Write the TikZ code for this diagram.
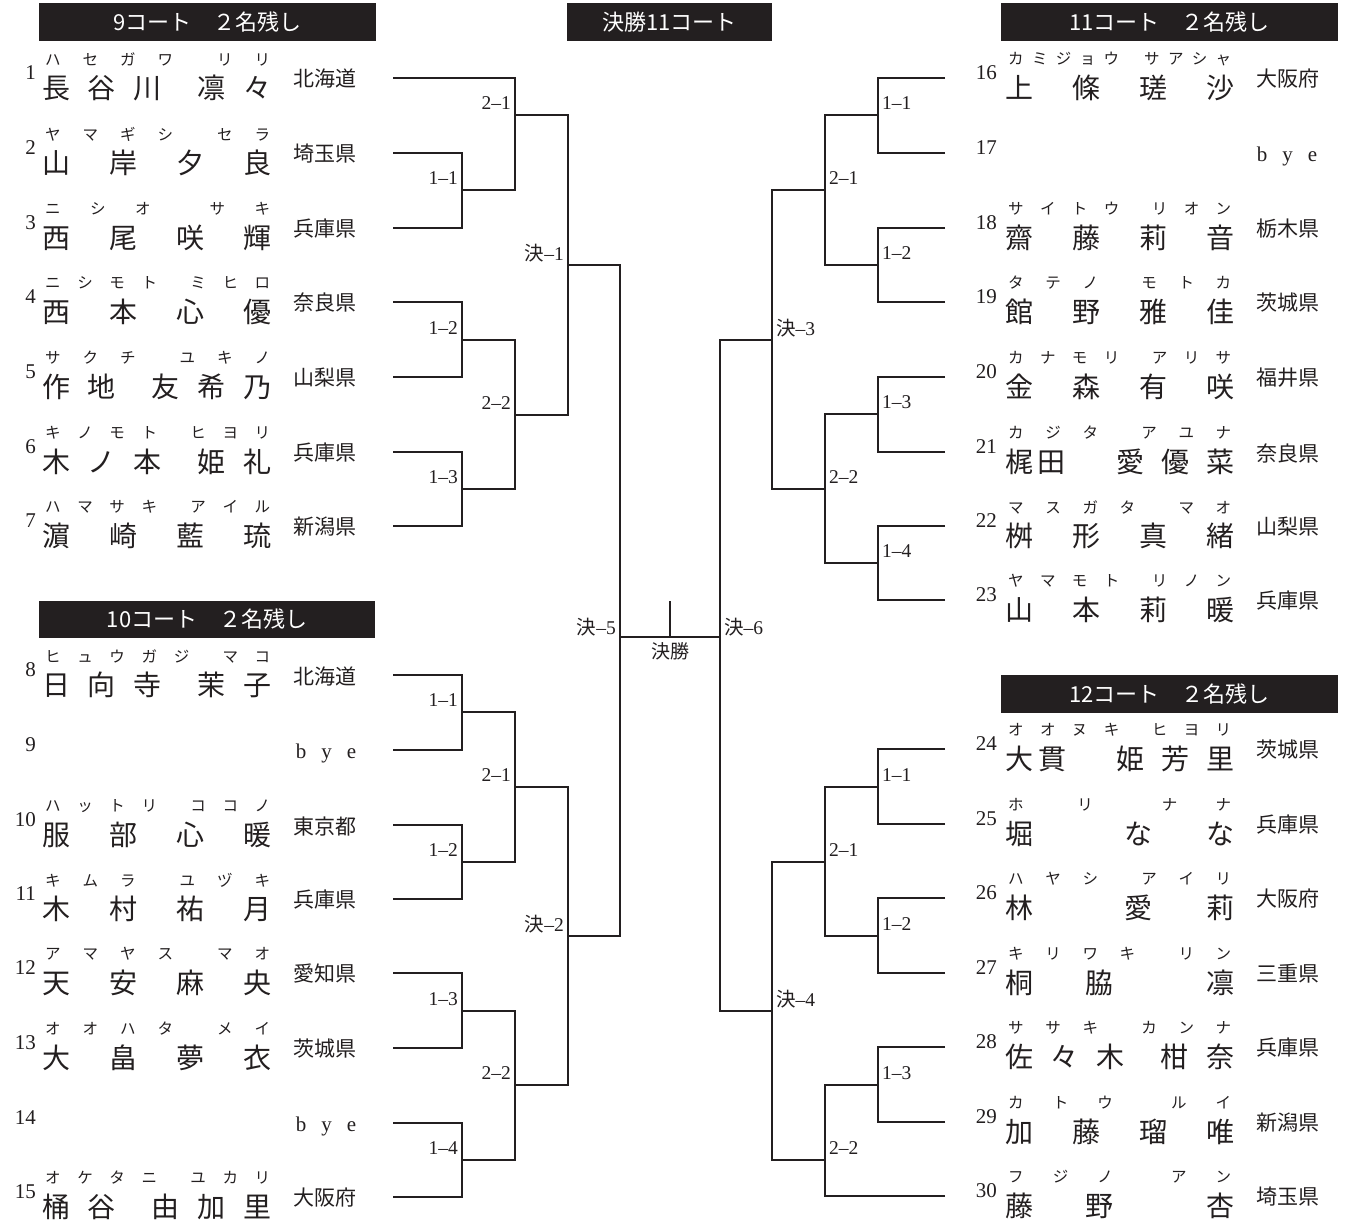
\documentclass[tikz,border=0pt]{standalone}
\usepackage{fontspec}
\setmainfont{Liberation Serif}
\newfontfamily\jp{Noto Sans CJK JP}
\definecolor{ink}{RGB}{35,31,32}
\newcommand\jg{\hfill}
\newcommand\jb{\hspace{\stretch{2}}}
\newcommand\jst[1]{\hspace{\stretch{#1}}}
\tikzset{
 br/.style={draw=ink, line width=2.9pt, line join=miter},
 hdr/.style={fill=ink, text=white, font=\jp\fontsize{22}{22}\selectfont, inner sep=0pt},
 lab/.style={text=ink, font=\fontsize{19.5}{19.5}\selectfont, inner sep=0pt},
 labL/.style={lab, anchor=east},
 labR/.style={lab, anchor=west},
 num/.style={text=ink, font=\fontsize{21}{21}\selectfont, inner sep=0pt, anchor=east},
 kana/.style={text=ink, font=\jp\fontsize{15.5}{15.5}\selectfont, inner sep=0pt, anchor=west},
 nm/.style={text=ink, font=\jp\fontsize{28}{28}\selectfont, inner sep=0pt, anchor=west},
 pref/.style={text=ink, font=\jp\fontsize{21}{21}\selectfont, inner sep=0pt},
 byetxt/.style={text=ink, font=\fontsize{21}{21}\selectfont, inner sep=0pt, anchor=base},
}
\newcommand\entL[5]{%
 \node[num] (n#1) at (36,#2-5) {#1};
 \node[kana] (k#1) at (45,#2-19) {\makebox[225pt][l]{#3}};
 \node[nm] (m#1) at (42,#2+10) {\makebox[229pt][l]{#4}};
 \node[pref] (p#1) at (325,#2+1) {#5};}
\newcommand\entR[5]{%
 \node[num] (n#1) at (997,#2-5) {#1};
 \node[kana] (k#1) at (1008,#2-19) {\makebox[223pt][l]{#3}};
 \node[nm] (m#1) at (1005,#2+10) {\makebox[229pt][l]{#4}};
 \node[pref] (p#1) at (1288,#2+1) {#5};}
\newcommand\byeL[2]{%
 \node[num] (n#1) at (36,#2-5) {#1};
 \node[byetxt] (p#1) at (326,#2+8) {b\hspace{15pt}y\hspace{15pt}e};}
\newcommand\byeR[2]{%
 \node[num] (n#1) at (997,#2-5) {#1};
 \node[byetxt] (p#1) at (1287,#2+8) {b\hspace{15pt}y\hspace{15pt}e};}
\begin{document}
\begin{tikzpicture}[x=1pt,y=-1pt]
\fill[white] (0,0) rectangle (1348,1224);
\useasboundingbox (0,0) rectangle (1348,1224);

% headers
\node[hdr, minimum width=337pt, minimum height=38pt] (h9) at (207.5,22) {9コート　２名残し};
\node[hdr, minimum width=205pt, minimum height=38pt] (hF) at (669.5,22) {決勝11コート};
\node[hdr, minimum width=337pt, minimum height=38pt] (h11) at (1169.5,22) {11コート　２名残し};
\node[hdr, minimum width=336pt, minimum height=37pt] (h10) at (207,619.5) {10コート　２名残し};
\node[hdr, minimum width=337pt, minimum height=38pt] (h12) at (1169.5,694) {12コート　２名残し};

% entry line ends
\coordinate (e1) at (393,78);   \coordinate (e2) at (393,153);
\coordinate (e3) at (393,228);  \coordinate (e4) at (393,302);
\coordinate (e5) at (393,377);  \coordinate (e6) at (393,452);
\coordinate (e7) at (393,526);
\coordinate (e8) at (393,675);  \coordinate (e9) at (393,750);
\coordinate (e10) at (393,825); \coordinate (e11) at (393,899);
\coordinate (e12) at (393,973); \coordinate (e13) at (393,1048);
\coordinate (e14) at (393,1123);\coordinate (e15) at (393,1197);
\coordinate (e16) at (945,78);  \coordinate (e17) at (945,153);
\coordinate (e18) at (945,228); \coordinate (e19) at (945,302);
\coordinate (e20) at (945,377); \coordinate (e21) at (945,452);
\coordinate (e22) at (945,526); \coordinate (e23) at (945,600);
\coordinate (e24) at (945,749); \coordinate (e25) at (945,824);
\coordinate (e26) at (945,898); \coordinate (e27) at (945,973);
\coordinate (e28) at (945,1047);\coordinate (e29) at (945,1122);
\coordinate (e30) at (945,1196);

% match junctions
\coordinate (A11) at (462,190); \coordinate (A12) at (462,340);
\coordinate (A13) at (462,489); \coordinate (A21) at (515,115);
\coordinate (A22) at (515,415); \coordinate (K1) at (568,265);
\coordinate (B11) at (462,712); \coordinate (B12) at (462,862);
\coordinate (B13) at (462,1011);\coordinate (B14) at (462,1160);
\coordinate (B21) at (515,787); \coordinate (B22) at (515,1085);
\coordinate (K2) at (568,936);
\coordinate (K5) at (620,637);
\coordinate (C11) at (878,115); \coordinate (C12) at (878,265);
\coordinate (C13) at (878,414); \coordinate (C14) at (878,563);
\coordinate (C21) at (825,190); \coordinate (C22) at (825,489);
\coordinate (K3) at (772,340);
\coordinate (D11) at (878,787); \coordinate (D12) at (878,936);
\coordinate (D13) at (878,1085);\coordinate (D21) at (825,862);
\coordinate (D22) at (825,1160);\coordinate (K4) at (772,1011);
\coordinate (K6) at (720,637);
\coordinate (FT) at (670,601);  \coordinate (FB) at (670,637);

% bracket lines
\draw[br] (e1) -| (A21); \draw[br] (e2) -| (A11); \draw[br] (e3) -| (A11);
\draw[br] (e4) -| (A12); \draw[br] (e5) -| (A12);
\draw[br] (e6) -| (A13); \draw[br] (e7) -| (A13);
\draw[br] (A11) -| (A21); \draw[br] (A12) -| (A22); \draw[br] (A13) -| (A22);
\draw[br] (A21) -| (K1); \draw[br] (A22) -| (K1);
\draw[br] (e8) -| (B11); \draw[br] (e9) -| (B11);
\draw[br] (e10) -| (B12); \draw[br] (e11) -| (B12);
\draw[br] (e12) -| (B13); \draw[br] (e13) -| (B13);
\draw[br] (e14) -| (B14); \draw[br] (e15) -| (B14);
\draw[br] (B11) -| (B21); \draw[br] (B12) -| (B21);
\draw[br] (B13) -| (B22); \draw[br] (B14) -| (B22);
\draw[br] (B21) -| (K2); \draw[br] (B22) -| (K2);
\draw[br] (K1) -| (K5); \draw[br] (K2) -| (K5);
\draw[br] (e16) -| (C11); \draw[br] (e17) -| (C11);
\draw[br] (e18) -| (C12); \draw[br] (e19) -| (C12);
\draw[br] (e20) -| (C13); \draw[br] (e21) -| (C13);
\draw[br] (e22) -| (C14); \draw[br] (e23) -| (C14);
\draw[br] (C11) -| (C21); \draw[br] (C12) -| (C21);
\draw[br] (C13) -| (C22); \draw[br] (C14) -| (C22);
\draw[br] (C21) -| (K3); \draw[br] (C22) -| (K3);
\draw[br] (e24) -| (D11); \draw[br] (e25) -| (D11);
\draw[br] (e26) -| (D12); \draw[br] (e27) -| (D12);
\draw[br] (e28) -| (D13); \draw[br] (e29) -| (D13);
\draw[br] (e30) -| (D22);
\draw[br] (D11) -| (D21); \draw[br] (D12) -| (D21);
\draw[br] (D13) -| (D22);
\draw[br] (D21) -| (K4); \draw[br] (D22) -| (K4);
\draw[br] (K3) -| (K6); \draw[br] (K4) -| (K6);
\draw[br] (K5) -- (K6);
\draw[br] (FT) -- (FB);

% match labels
\node[labL] (lA11) at (458,178) {1–1};
\node[labL] (lA12) at (458,328) {1–2};
\node[labL] (lA13) at (458,477) {1–3};
\node[labL] (lA21) at (511,103) {2–1};
\node[labL] (lA22) at (511,403) {2–2};
\node[labL] (lK1) at (564,253) {{\jp 決}–1};
\node[labL] (lB11) at (458,700) {1–1};
\node[labL] (lB12) at (458,850) {1–2};
\node[labL] (lB13) at (458,999) {1–3};
\node[labL] (lB14) at (458,1148) {1–4};
\node[labL] (lB21) at (511,775) {2–1};
\node[labL] (lB22) at (511,1073) {2–2};
\node[labL] (lK2) at (564,924) {{\jp 決}–2};
\node[labL] (lK5) at (616,627) {{\jp 決}–5};
\node[labR] (lC11) at (882,103) {1–1};
\node[labR] (lC12) at (882,253) {1–2};
\node[labR] (lC13) at (882,402) {1–3};
\node[labR] (lC14) at (882,551) {1–4};
\node[labR] (lC21) at (829,178) {2–1};
\node[labR] (lC22) at (829,477) {2–2};
\node[labR] (lK3) at (776,328) {{\jp 決}–3};
\node[labR] (lD11) at (882,775) {1–1};
\node[labR] (lD12) at (882,924) {1–2};
\node[labR] (lD13) at (882,1073) {1–3};
\node[labR] (lD21) at (829,850) {2–1};
\node[labR] (lD22) at (829,1148) {2–2};
\node[labR] (lK4) at (776,999) {{\jp 決}–4};
\node[labR] (lK6) at (724,627) {{\jp 決}–6};
\node[lab, font=\jp\fontsize{19}{19}\selectfont] (lF) at (670,651) {決勝};

% left entries
\entL{1}{78}{ハ\jg セ\jg ガ\jg ワ\jb リ\jg リ}{長\jg 谷\jg 川\jb 凛\jg 々}{北海道}
\entL{2}{153}{ヤ\jg マ\jg ギ\jg シ\jb セ\jg ラ}{山\jg 岸\jg 夕\jg 良}{埼玉県}
\entL{3}{228}{ニ\jg シ\jg オ\jb サ\jg キ}{西\jg 尾\jg 咲\jg 輝}{兵庫県}
\entL{4}{302}{ニ\jg シ\jg モ\jg ト\jb ミ\jg ヒ\jg ロ}{西\jg 本\jg 心\jg 優}{奈良県}
\entL{5}{377}{サ\jg ク\jg チ\jb ユ\jg キ\jg ノ}{作\jg 地\jb 友\jg 希\jg 乃}{山梨県}
\entL{6}{452}{キ\jg ノ\jg モ\jg ト\jb ヒ\jg ヨ\jg リ}{木\jg ノ\jg 本\jb 姫\jg 礼}{兵庫県}
\entL{7}{526}{ハ\jg マ\jg サ\jg キ\jb ア\jg イ\jg ル}{濵\jg 崎\jg 藍\jg 琉}{新潟県}
\entL{8}{675}{ヒ\jg ュ\jg ウ\jg ガ\jg ジ\jb マ\jg コ}{日\jg 向\jg 寺\jb 茉\jg 子}{北海道}
\byeL{9}{750}
\entL{10}{825}{ハ\jg ッ\jg ト\jg リ\jb コ\jg コ\jg ノ}{服\jg 部\jg 心\jg 暖}{東京都}
\entL{11}{899}{キ\jg ム\jg ラ\jb ユ\jg ヅ\jg キ}{木\jg 村\jg 祐\jg 月}{兵庫県}
\entL{12}{973}{ア\jg マ\jg ヤ\jg ス\jb マ\jg オ}{天\jg 安\jg 麻\jg 央}{愛知県}
\entL{13}{1048}{オ\jg オ\jg ハ\jg タ\jb メ\jg イ}{大\jg 畠\jg 夢\jg 衣}{茨城県}
\byeL{14}{1123}
\entL{15}{1197}{オ\jg ケ\jg タ\jg ニ\jb ユ\jg カ\jg リ}{桶\jg 谷\jb 由\jg 加\jg 里}{大阪府}

% right entries
\entR{16}{78}{カ\jg ミ\jg ジ\jg ョ\jg ウ\jst{3}サ\jg ア\jg シ\jg ャ}{上\jg 條\jg 瑳\jg 沙}{大阪府}
\byeR{17}{153}
\entR{18}{228}{サ\jg イ\jg ト\jg ウ\jb リ\jg オ\jg ン}{齋\jg 藤\jg 莉\jg 音}{栃木県}
\entR{19}{302}{タ\jg テ\jg ノ\jb モ\jg ト\jg カ}{館\jg 野\jg 雅\jg 佳}{茨城県}
\entR{20}{377}{カ\jg ナ\jg モ\jg リ\jb ア\jg リ\jg サ}{金\jg 森\jg 有\jg 咲}{福井県}
\entR{21}{452}{カ\jg ジ\jg タ\jb ア\jg ユ\jg ナ}{梶\hspace{4pt}田\jst{3}愛\jg 優\jg 菜}{奈良県}
\entR{22}{526}{マ\jg ス\jg ガ\jg タ\jb マ\jg オ}{桝\jg 形\jg 真\jg 緒}{山梨県}
\entR{23}{600}{ヤ\jg マ\jg モ\jg ト\jb リ\jg ノ\jg ン}{山\jg 本\jg 莉\jg 暖}{兵庫県}
\entR{24}{749}{オ\jg オ\jg ヌ\jg キ\jb ヒ\jg ヨ\jg リ}{大\hspace{5pt}貫\jst{3}姫\jg 芳\jg 里}{茨城県}
\entR{25}{824}{ホ\jst{1.4}リ\jst{1.8}ナ\jg ナ}{堀\jst{1.7}な\jg な}{兵庫県}
\entR{26}{898}{ハ\jg ヤ\jg シ\jb ア\jg イ\jg リ}{林\jst{1.7}愛\jg 莉}{大阪府}
\entR{27}{973}{キ\jg リ\jg ワ\jg キ\jb リ\jg ン}{桐\jg 脇\jst{1.75}凛}{三重県}
\entR{28}{1047}{サ\jg サ\jg キ\jb カ\jg ン\jg ナ}{佐\jg 々\jg 木\jb 柑\jg 奈}{兵庫県}
\entR{29}{1122}{カ\jg ト\jg ウ\jb ル\jg イ}{加\jg 藤\jg 瑠\jg 唯}{新潟県}
\entR{30}{1196}{フ\jg ジ\jg ノ\jb ア\jg ン}{藤\jg 野\jst{1.75}杏}{埼玉県}
\end{tikzpicture}
\end{document}
